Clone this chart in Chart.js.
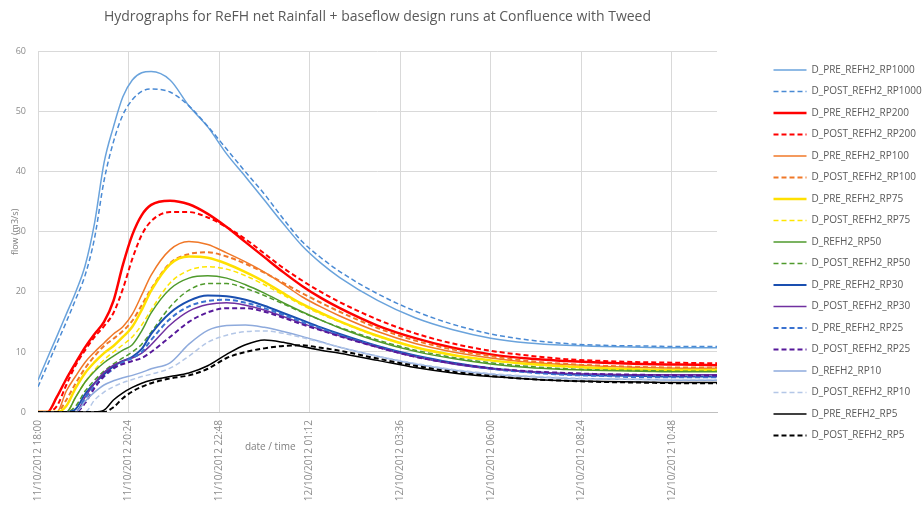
<!DOCTYPE html>
<html>
<head>
<meta charset="utf-8">
<title>Hydrographs</title>
<script src="https://cdn.jsdelivr.net/npm/chart.js@4.4.1/dist/chart.umd.min.js"></script>
<style>
  html, body { margin: 0; padding: 0; background: #fff; overflow: hidden; }
  #wrap { width: 924px; height: 505px; }
</style>
</head>
<body>
<div id="wrap"><canvas id="myChart"></canvas></div>
<script>
"use strict";

// time axis in hours after 11/10/2012 18:00
const hours = [0, 0.25, 0.5, 0.75, 1, 1.25, 1.5, 1.75, 2, 2.25, 2.5, 2.75, 3,
  3.5, 4, 4.5, 5, 5.5, 6, 6.5, 7, 7.5, 8, 9, 10, 11, 12, 13, 14, 15, 16, 17, 18];

const xTickHours = [0, 2.4, 4.8, 7.2, 9.6, 12, 14.4, 16.8];
const xTickLabels = ["11/10/2012 18:00", "11/10/2012 20:24", "11/10/2012 22:48",
  "12/10/2012 01:12", "12/10/2012 03:36", "12/10/2012 06:00",
  "12/10/2012 08:24", "12/10/2012 10:48"];

const chartTitle = "Hydrographs for ReFH net Rainfall + baseflow design runs at Confluence with Tweed";
const xAxisTitle = "date / time";
const yAxisTitle = "flow (m3/s)";

// flows (m3/s)
const rp1000Pre = [5.3, 9, 12.6, 16.3, 20, 24.4, 31.5, 41.5, 47.5, 52.5, 55.3, 56.5, 56.7,
  55.3, 51, 47.5, 43, 39.2, 35.3, 31.4, 27.7, 24.8, 22.4, 18.6, 15.7, 13.7, 12.3, 11.5, 11.1, 10.9, 10.8, 10.7, 10.7];
const rp1000Post = [4.2, 7.8, 11.4, 15, 18.8, 22.8, 29, 38.5, 45, 49.5, 52, 53.4, 53.8,
  53.3, 51, 47.6, 43.8, 40, 36.3, 32.2, 28.4, 25.7, 23.4, 19.7, 16.8, 14.6, 13, 12, 11.4, 11.1, 11, 10.9, 10.9];
const rp200Pre = [0, 0, 2.5, 5.5, 8.2, 10.8, 13, 15, 18.5, 24.5, 29.5, 32.8, 34.5,
  35.2, 34.6, 33, 30.8, 28.3, 25.8, 23.3, 21, 19, 17.3, 14.4, 12.3, 10.7, 9.6, 8.9, 8.5, 8.2, 8, 7.9, 7.8];
const rp200Post = [0, 0, 1, 4.5, 7.8, 10.3, 12.5, 14.3, 16.5, 20.5, 25.5, 29.5, 31.8,
  33.3, 33.3, 32.4, 30.8, 28.8, 26.4, 24, 21.9, 20, 18.3, 15.4, 13.1, 11.4, 10.2, 9.4, 8.8, 8.5, 8.3, 8.2, 8.1];
const rp100Pre = [0, 0, 0, 3.5, 6, 8.3, 10, 11.5, 13, 14.2, 16.3, 19.5, 22.8,
  27, 28.4, 27.9, 26.5, 25, 23.3, 21.3, 19.2, 17.5, 16, 13.4, 11.4, 10, 9, 8.3, 7.9, 7.6, 7.4, 7.3, 7.3];
const rp100Post = [0, 0, 0, 2, 4.8, 7.3, 9.3, 11, 12.2, 13.5, 15.2, 17.8, 20.5,
  24.8, 26.3, 26.6, 25.9, 24.7, 23.2, 21.5, 19.8, 18.2, 16.7, 14, 11.9, 10.4, 9.3, 8.5, 8, 7.7, 7.5, 7.4, 7.4];
const rp75Pre = [0, 0, 0, 1, 4, 6.5, 8.3, 9.8, 11, 12.5, 14.2, 17, 20.2,
  24.6, 25.9, 25.7, 24.7, 23.3, 21.7, 19.8, 18, 16.5, 15.1, 12.7, 10.8, 9.5, 8.6, 8, 7.6, 7.3, 7.1, 7, 7];
const rp75Post = [0, 0, 0, 0, 2.5, 5, 7, 8.7, 10, 11.2, 12.5, 14.5, 17,
  21.5, 23.6, 24.2, 23.8, 22.7, 21.2, 19.5, 17.8, 16.3, 15, 12.6, 10.8, 9.5, 8.6, 8, 7.5, 7.2, 7, 6.9, 6.9];
const rp50Pre = [0, 0, 0, 0, 2.5, 5, 6.8, 8.2, 9.3, 10.3, 11.2, 13.5, 16.5,
  20.5, 22.3, 22.7, 22.3, 21.2, 19.8, 18.2, 16.7, 15.3, 14, 11.8, 10.1, 8.9, 8, 7.4, 7.1, 6.9, 6.8, 6.7, 6.7];
const rp50Post = [0, 0, 0, 0, 1, 3.5, 5.3, 6.8, 8, 9, 10, 11.3, 13.3,
  17.5, 20.3, 21.4, 21.4, 20.6, 19.4, 18, 16.6, 15.3, 14.1, 12, 10.3, 9.1, 8.2, 7.6, 7.2, 7, 6.9, 6.8, 6.8];
const rp30Pre = [0, 0, 0, 0, 0.5, 3, 4.8, 6.3, 7.6, 8.5, 9.2, 10.5, 13,
  16.5, 18.5, 19.4, 19.3, 18.7, 17.7, 16.5, 15.3, 14.1, 13, 11, 9.4, 8.2, 7.3, 6.7, 6.3, 6.1, 6, 5.9, 5.9];
const rp30Post = [0, 0, 0, 0, 0, 2.5, 4.8, 6.6, 7.8, 8.5, 9, 9.8, 11.2,
  14.5, 16.8, 17.9, 18.2, 17.8, 17, 15.9, 14.8, 13.7, 12.7, 10.8, 9.2, 8, 7.2, 6.7, 6.4, 6.3, 6.2, 6.2, 6.2];
const rp25Pre = [0, 0, 0, 0, 0, 2.3, 4.3, 5.9, 7.2, 8.3, 9, 10, 12,
  15.5, 17.6, 18.5, 18.7, 18.2, 17.3, 16.2, 15, 13.9, 12.8, 10.9, 9.3, 8.1, 7.2, 6.6, 6.2, 6, 5.8, 5.8, 5.8];
const rp25Post = [0, 0, 0, 0, 0, 1.5, 4, 6, 7.3, 8, 8.5, 9, 10,
  12.5, 15, 16.6, 17.3, 17.3, 16.7, 15.7, 14.6, 13.6, 12.6, 10.8, 9.2, 8.1, 7.3, 6.8, 6.5, 6.3, 6.2, 6.1, 6.1];
const rp10Pre = [0, 0, 0, 0, 0, 1.8, 3.3, 4.5, 5.2, 5.7, 6.1, 6.6, 7.2,
  8.2, 11.3, 13.6, 14.4, 14.5, 14.1, 13.4, 12.6, 11.7, 10.8, 9.3, 8, 7, 6.3, 5.9, 5.6, 5.5, 5.4, 5.3, 5.3];
const rp10Post = [0, 0, 0, 0, 0, 0, 2, 3.3, 4.2, 4.9, 5.4, 5.9, 6.3,
  7.3, 9.3, 11.6, 12.8, 13.4, 13.5, 13.1, 12.4, 11.6, 10.8, 9.3, 8.1, 7.1, 6.4, 6, 5.7, 5.5, 5.4, 5.4, 5.4];
const rp5Pre = [0, 0, 0, 0, 0, 0, 0, 0.3, 2, 3.2, 4.1, 4.8, 5.3,
  5.9, 6.5, 7.7, 9.6, 11.2, 12, 11.6, 10.9, 10.3, 9.8, 8.6, 7.4, 6.5, 5.9, 5.5, 5.2, 5.1, 5, 4.9, 4.9];
const rp5Post = [0, 0, 0, 0, 0, 0, 0, 0, 0.8, 2.3, 3.4, 4.2, 4.8,
  5.6, 6.1, 7.2, 9, 10, 10.6, 11, 11.1, 10.7, 10.2, 8.9, 7.7, 6.7, 6, 5.5, 5.2, 5, 4.9, 4.8, 4.8];

//Hjälpfunktion för en serie
function series(label, values, color, width, dashed) {
  return {
    label: label,
    data: values.map(function (v, i) { return { x: hours[i], y: v }; }),
    borderColor: color,
    backgroundColor: color,
    borderWidth: width,
    borderDash: dashed ? [5, 3] : [],
    pointRadius: 0,
    fill: false,
    cubicInterpolationMode: "monotone",
  };
}

const datasets = [
  series("D_PRE_REFH2_RP1000", rp1000Pre, "#6aa3dc", 1.5, false),
  series("D_POST_REFH2_RP1000", rp1000Post, "#4a8ad4", 1.5, true),
  series("D_PRE_REFH2_RP200", rp200Pre, "#ff0000", 2.5, false),
  series("D_POST_REFH2_RP200", rp200Post, "#ff0000", 2, true),
  series("D_PRE_REFH2_RP100", rp100Pre, "#f07828", 1.5, false),
  series("D_POST_REFH2_RP100", rp100Post, "#f07828", 2, true),
  series("D_PRE_REFH2_RP75", rp75Pre, "#ffe000", 2.5, false),
  series("D_POST_REFH2_RP75", rp75Post, "#ffe600", 1.5, true),
  series("D_REFH2_RP50", rp50Pre, "#4f9a2c", 1.5, false),
  series("D_POST_REFH2_RP50", rp50Post, "#4f9a2c", 1.5, true),
  series("D_PRE_REFH2_RP30", rp30Pre, "#1a4fb0", 2, false),
  series("D_POST_REFH2_RP30", rp30Post, "#7030a0", 1.5, false),
  series("D_PRE_REFH2_RP25", rp25Pre, "#3a72d0", 2, true),
  series("D_POST_REFH2_RP25", rp25Post, "#56189a", 2, true),
  series("D_REFH2_RP10", rp10Pre, "#8eaadc", 1.5, false),
  series("D_POST_REFH2_RP10", rp10Post, "#b4c7e7", 1.5, true),
  series("D_PRE_REFH2_RP5", rp5Pre, "#000000", 1.5, false),
  series("D_POST_REFH2_RP5", rp5Post, "#000000", 2, true),
];
//Senare serier ritas överst
datasets.forEach(function (d, i) { d.order = -i; });

//Flytta legenden till höger om diagrammet
const legendPlace = {
  id: "legendPlace",
  beforeLayout(chart) {
    const lg = chart.legend;
    if (lg && !lg._patched) {
      const fit = lg.fit;
      lg.fit = function () { fit.call(this); this.width = 207; };
      lg._patched = true;
    }
  },
  afterLayout(chart) {
    chart.legend.left = 762;
    chart.legend.top = 53.5;
  },
};

//X-axelns titel mellan etiketterna
const xTitle = {
  id: "xTitle",
  afterDraw(chart) {
    const ctx = chart.ctx;
    const a = chart.chartArea;
    ctx.save();
    ctx.font = "10px 'Open Sans'";
    ctx.fillStyle = "#7f7f7f";
    ctx.textAlign = "center";
    ctx.textBaseline = "middle";
    ctx.fillText(xAxisTitle, a.left + (a.right - a.left) * 0.342, a.bottom + 35);
    ctx.restore();
  },
};

Chart.defaults.font.family = "'Open Sans', sans-serif";

const ctx = document.getElementById("myChart");

new Chart(ctx, {
  type: "line",
  data: { datasets: datasets },
  plugins: [legendPlace, xTitle],
  options: {
    responsive: true,
    maintainAspectRatio: false,
    animation: false,
    layout: { padding: 0 },
    plugins: {
      title: {
        display: true,
        text: chartTitle,
        fullSize: false,
        color: "#595959",
        font: { size: 14, weight: "normal" },
        padding: { top: 9, bottom: 26 },
      },
      legend: {
        position: "right",
        align: "start",
        labels: {
          usePointStyle: true,
          pointStyle: "line",
          pointStyleWidth: 33,
          padding: 11.5,
          color: "#595959",
          font: { size: 10 },
          sort: function (a, b) { return a.datasetIndex - b.datasetIndex; },
          generateLabels: function (chart) {
            const items = Chart.defaults.plugins.legend.labels.generateLabels(chart);
            items.forEach(function (it) {
              const ds = chart.data.datasets[it.datasetIndex];
              it.lineDash = ds.borderDash;
              it.lineWidth = ds.borderWidth;
              it.strokeStyle = ds.borderColor;
            });
            return items;
          },
        },
      },
      tooltip: { enabled: false },
    },
    scales: {
      x: {
        type: "linear",
        min: 0,
        max: 18,
        afterBuildTicks: function (scale) {
          scale.ticks = xTickHours.map(function (v) { return { value: v }; });
        },
        afterFit: function (scale) { scale.height = 93; },
        grid: { color: "#d9d9d9", drawTicks: false },
        border: { color: "#bfbfbf" },
        ticks: {
          autoSkip: false,
          maxRotation: 90,
          minRotation: 90,
          padding: 8,
          color: "#8c8c8c",
          font: { size: 10 },
          callback: function (v, i) { return xTickLabels[i]; },
        },
      },
      y: {
        min: 0,
        max: 60,
        afterFit: function (scale) { scale.width = 38; },
        grid: { color: "#d9d9d9", drawTicks: false },
        border: { display: false },
        ticks: { stepSize: 10, padding: 12, color: "#8c8c8c", font: { size: 9 } },
        title: {
          display: true,
          text: yAxisTitle,
          color: "#7f7f7f",
          font: { size: 9 },
          padding: { top: 10, bottom: 0 },
        },
      },
    },
  },
});
</script>
</body>
</html>
